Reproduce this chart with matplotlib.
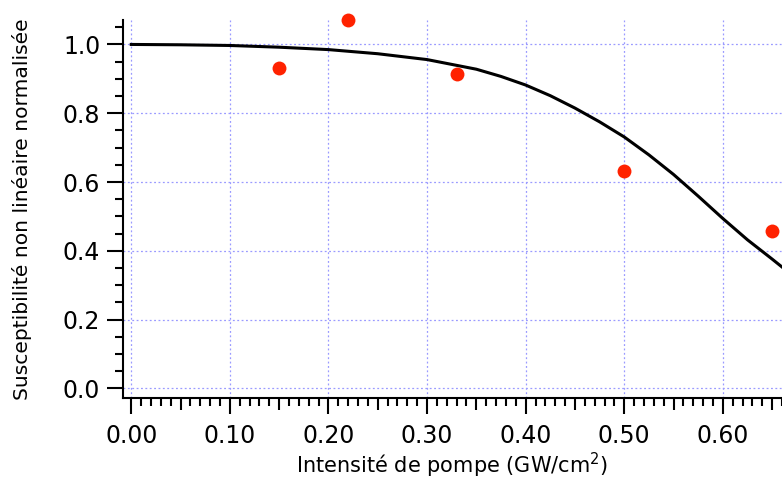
import numpy as np
import matplotlib
matplotlib.use('Agg')
import matplotlib.pyplot as plt
from matplotlib.ticker import MultipleLocator, FormatStrFormatter

# measured points
intensity = [0.15, 0.22, 0.33, 0.50, 0.65]
chi_norm = [0.931, 1.071, 0.914, 0.632, 0.457]

# fitted curve
fit_x = [0.0, 0.05, 0.10, 0.15, 0.20, 0.25, 0.30, 0.35, 0.375, 0.40, 0.425,
         0.45, 0.475, 0.50, 0.525, 0.55, 0.575, 0.60, 0.625, 0.65, 0.66]
fit_y = [1.0, 0.999, 0.997, 0.992, 0.985, 0.973, 0.956, 0.928, 0.907, 0.882, 0.851,
         0.815, 0.775, 0.731, 0.679, 0.622, 0.559, 0.494, 0.432, 0.376, 0.353]

fig = plt.figure(figsize=(7.82, 4.79), dpi=100)
ax = fig.add_axes([0.1569, 0.1697, 0.8431, 0.7885])

ax.plot(fit_x, fit_y, color='black', lw=2.2, zorder=3)
ax.plot(intensity, chi_norm, 'o', color='#ff2200', ms=10, mec='none',
        clip_on=False, zorder=4)

ax.set_xlim(-0.0087, 0.66)
ax.set_ylim(-0.027, 1.071)

ax.xaxis.set_major_locator(MultipleLocator(0.1))
ax.xaxis.set_minor_locator(MultipleLocator(0.01))
ax.xaxis.set_major_formatter(FormatStrFormatter('%.2f'))
ax.yaxis.set_major_locator(MultipleLocator(0.2))
ax.yaxis.set_minor_locator(MultipleLocator(0.05))
ax.yaxis.set_major_formatter(FormatStrFormatter('%.1f'))

for s in ['top', 'right']:
    ax.spines[s].set_visible(False)
for s in ['left', 'bottom']:
    ax.spines[s].set_linewidth(1.5)

ax.tick_params(which='major', direction='out', length=11.2, width=1.5,
               labelsize=17, color='black')
ax.tick_params(which='minor', direction='out', length=5.8, width=1.5)
ax.tick_params(axis='x', which='major', pad=8)
ax.tick_params(axis='y', which='major', pad=5)

# longer minor ticks at the half-decade marks on x
for t, v in zip(ax.xaxis.get_minor_ticks(), ax.xaxis.get_minorticklocs()):
    if abs(round(v * 100) % 10 - 5) < 1e-6:
        t.tick1line.set_markersize(8.6)

ax.grid(True, which='major', color='#9a9aff', linestyle=(0, (1.5, 2)), lw=0.9)
ax.set_axisbelow(True)

ax.set_xlabel('Intensité de pompe (GW/cm$^2$)', fontsize=15, labelpad=2)
ax.set_ylabel('Susceptibilité non linéaire normalisée', fontsize=14.6, labelpad=22)

fig.savefig('out.png', dpi=100)
